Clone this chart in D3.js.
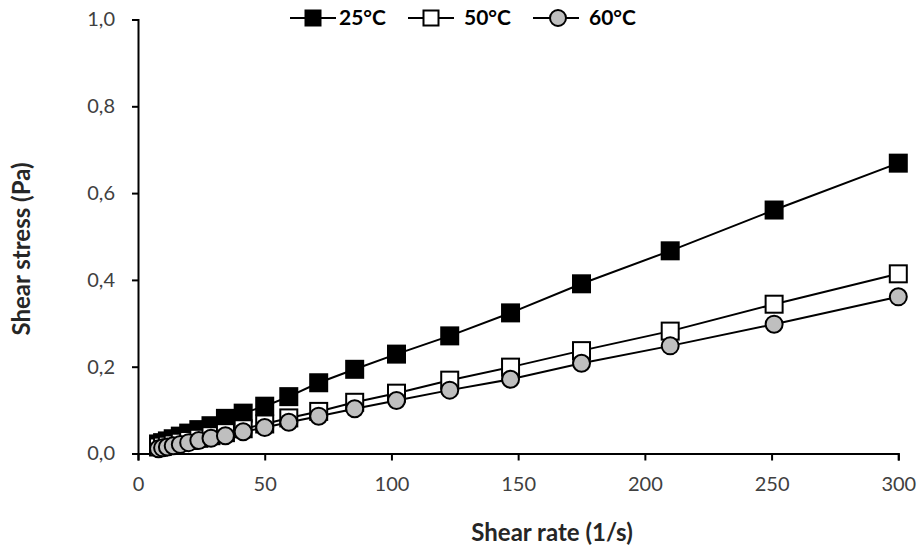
<!DOCTYPE html>
<html>
<head>
<meta charset="utf-8">
<script src="https://cdn.jsdelivr.net/npm/d3@7"></script>
<style>
  body { margin: 0; background: #fff; }
  text { font-family: Lato, "Open Sans", sans-serif; }
</style>
</head>
<body>
<div id="chart"></div>
<script>
// shear rate (1/s)
let shearRate = [8.1, 9.7, 11.6, 13.9, 16.7, 20, 24, 28.8, 34.5, 41.5, 50, 59.5, 71.3, 85.5, 102, 123, 147, 175, 210, 251, 300]

// shear stress (Pa)
let stress25 = [0.022, 0.025, 0.029, 0.034, 0.040, 0.047, 0.055, 0.064, 0.081, 0.093, 0.109, 0.131, 0.163, 0.194, 0.229, 0.271, 0.324, 0.391, 0.467, 0.561, 0.669]
let stress50 = [0.015, 0.017, 0.019, 0.022, 0.026, 0.030, 0.035, 0.041, 0.048, 0.057, 0.068, 0.082, 0.097, 0.118, 0.139, 0.169, 0.199, 0.237, 0.282, 0.344, 0.414]
let stress60 = [0.011, 0.013, 0.015, 0.018, 0.021, 0.025, 0.030, 0.035, 0.041, 0.050, 0.060, 0.072, 0.086, 0.103, 0.122, 0.146, 0.171, 0.208, 0.248, 0.298, 0.361]

let seriesNames = ['25°C', '50°C', '60°C']
let xTicks = [0, 50, 100, 150, 200, 250, 300]
let yTicks = [0, 0.2, 0.4, 0.6, 0.8, 1.0]

let margin = { top: 19.5, left: 138, right: 25, bottom: 98.5 }
let width = 923 - margin.left - margin.right
let height = 552 - margin.top - margin.bottom

let svg = d3
  .select('#chart')
  .append('svg')
  .attr('width', 923)
  .attr('height', 552)

let g = svg
  .append('g')
  .attr('transform', `translate(${margin.left}, ${margin.top})`)

let x = d3.scaleLinear().domain([0, 300]).range([0, 760.3])
let y = d3.scaleLinear().domain([0, 1]).range([height, 0])

let series = [
  { name: seriesNames[0], values: stress25, marker: 'square', fill: '#000' },
  { name: seriesNames[1], values: stress50, marker: 'square', fill: '#fff' },
  { name: seriesNames[2], values: stress60, marker: 'circle', fill: '#bfbfbf' }
]

// axes
let xAxis = g
  .append('g')
  .attr('transform', `translate(0, ${height})`)
  .call(d3.axisBottom(x).tickValues(xTicks).tickSize(7).tickPadding(16).tickFormat(d3.format('d')))

let yAxis = g
  .append('g')
  .call(d3.axisLeft(y).tickValues(yTicks).tickSize(6).tickPadding(17).tickFormat(d => d3.format('.1f')(d).replace('.', ',')))

xAxis.select('.domain').attr('stroke', '#000').attr('stroke-width', 2)
yAxis.select('.domain').attr('stroke', '#000').attr('stroke-width', 2)
g.selectAll('.tick line').attr('stroke', '#000').attr('stroke-width', 2)
g.selectAll('.tick text')
  .attr('fill', '#404040')
  .style('font-size', '20px')
  .style('font-family', 'Lato, sans-serif')

// lines and markers
let line = d3
  .line()
  .x((d, i) => x(shearRate[i]))
  .y(d => y(d))

let size = 17

series.forEach(s => {
  g.append('path')
    .datum(s.values)
    .attr('d', line)
    .attr('fill', 'none')
    .attr('stroke', '#000')
    .attr('stroke-width', 2)

  let pts = g.append('g')
  if (s.marker === 'square') {
    pts.selectAll('rect')
      .data(s.values)
      .enter()
      .append('rect')
      .attr('x', (d, i) => x(shearRate[i]) - size / 2)
      .attr('y', d => y(d) - size / 2)
      .attr('width', size)
      .attr('height', size)
      .attr('fill', s.fill)
      .attr('stroke', '#000')
      .attr('stroke-width', 2)
  } else {
    pts.selectAll('circle')
      .data(s.values)
      .enter()
      .append('circle')
      .attr('cx', (d, i) => x(shearRate[i]))
      .attr('cy', d => y(d))
      .attr('r', size / 2)
      .attr('fill', s.fill)
      .attr('stroke', '#000')
      .attr('stroke-width', 2)
  }
})

// axis titles
svg.append('text')
  .attr('x', 552)
  .attr('y', 541)
  .attr('text-anchor', 'middle')
  .attr('fill', '#262626')
  .style('font-size', '24px')
  .style('font-weight', 'bold')
  .text('Shear rate (1/s)')

svg.append('text')
  .attr('transform', 'translate(30, 249) rotate(-90)')
  .attr('text-anchor', 'middle')
  .attr('fill', '#262626')
  .style('font-size', '24px')
  .style('font-weight', 'bold')
  .text('Shear stress (Pa)')

// legend
let legendX = [290, 408, 533]
let legend = svg
  .selectAll('.legend')
  .data(series)
  .enter()
  .append('g')
  .attr('class', 'legend')
  .attr('transform', (d, i) => `translate(${legendX[i]}, 18)`)

legend.append('line')
  .attr('x1', 0)
  .attr('x2', 46)
  .attr('stroke', '#000')
  .attr('stroke-width', 2)

legend.each(function(d) {
  let el = d3.select(this)
  if (d.marker === 'square') {
    el.append('rect')
      .attr('x', 23 - 7.5)
      .attr('y', -7.5)
      .attr('width', 15)
      .attr('height', 15)
      .attr('fill', d.fill)
      .attr('stroke', '#000')
      .attr('stroke-width', 2)
  } else {
    el.append('circle')
      .attr('cx', 25)
      .attr('r', 8)
      .attr('fill', d.fill)
      .attr('stroke', '#000')
      .attr('stroke-width', 2)
  }
})

legend.append('text')
  .attr('x', (d, i) => i === 0 ? 49 : 56)
  .attr('y', 0)
  .attr('dy', '0.35em')
  .attr('fill', '#000')
  .style('font-size', '21px')
  .style('font-weight', 'bold')
  .text(d => d.name)
</script>
</body>
</html>
